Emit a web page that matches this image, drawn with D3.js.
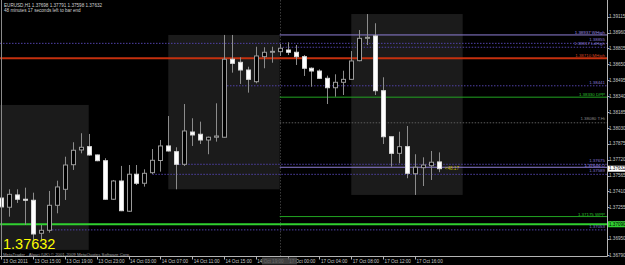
<!DOCTYPE html>
<html>
<head>
<meta charset="utf-8">
<script src="https://cdn.jsdelivr.net/npm/d3@7"></script>
<style>
body { margin: 0; background: #000; overflow: hidden; }
svg { display: block; }
text { font-family: "Liberation Sans", Arial, sans-serif; }
</style>
</head>
<body>
<script>
var w = 625;
var h = 265;

// EURUSD H1 bars, 13 Oct 2011 11:00 .. 17 Oct 2011 19:00
var opens  = [1.37346,1.37256,1.37376,1.37334,1.37324,1.37002,1.37031,1.37275,1.37431,1.37671,
              1.37815,1.37847,1.37766,1.37710,1.37334,1.37512,1.37217,1.37578,1.37490,1.37593,
              1.37712,1.37854,1.37798,1.37675,1.37990,1.37968,1.37912,1.37939,1.37939,1.38700,
              1.38670,1.38595,1.38481,1.38725,1.38768,1.38774,1.38790,1.38768,1.38725,1.38612,
              1.38585,1.38514,1.38422,1.38475,1.38504,1.38686,1.38904,1.38927,1.38393,1.37944,
              1.37782,1.37847,1.37583,1.37642,1.37661,1.37698];
var highs  = [1.37376,1.37431,1.37431,1.37447,1.37398,1.37083,1.37415,1.37515,1.37749,1.37890,
              1.37978,1.37971,1.37770,1.37734,1.37522,1.37659,1.37668,1.37668,1.37626,1.37824,
              1.37912,1.38146,1.37841,1.38263,1.38124,1.38091,1.37945,1.38270,1.38937,1.38937,
              1.38719,1.38627,1.38822,1.38817,1.38822,1.38849,1.38865,1.38839,1.38741,1.38621,
              1.38602,1.38540,1.38553,1.38588,1.38780,1.38985,1.39141,1.39051,1.38524,1.37944,
              1.37993,1.38049,1.37773,1.37743,1.37805,1.37791];
var lows   = [1.37229,1.37164,1.37298,1.37083,1.36937,1.36937,1.37008,1.37197,1.37327,1.37620,
              1.37782,1.37760,1.37705,1.37330,1.37327,1.37218,1.37210,1.37473,1.37457,1.37580,
              1.37603,1.37800,1.37431,1.37659,1.37854,1.37873,1.37773,1.37896,1.37935,1.38569,
              1.38459,1.38374,1.38465,1.38612,1.38666,1.38732,1.38741,1.38644,1.38537,1.38432,
              1.38510,1.38263,1.38335,1.38351,1.38500,1.38680,1.38839,1.38351,1.37873,1.37652,
              1.37685,1.37539,1.37376,1.37463,1.37522,1.37598];
var closes = [1.37259,1.37382,1.37334,1.37324,1.36995,1.37031,1.37275,1.37454,1.37668,1.37812,
              1.37841,1.37766,1.37710,1.37334,1.37512,1.37222,1.37578,1.37490,1.37587,1.37714,
              1.37854,1.37805,1.37675,1.38000,1.37961,1.37912,1.37939,1.37951,1.38700,1.38660,
              1.38595,1.38504,1.38732,1.38768,1.38777,1.38807,1.38768,1.38725,1.38612,1.38585,
              1.38514,1.38422,1.38475,1.38504,1.38683,1.38904,1.38914,1.38393,1.37944,1.37782,
              1.37847,1.37587,1.37646,1.37668,1.37695,1.37632];

var timeTickIdx = [0,4,8,12,16,20,24,28,32,36,40,44,48,52];
var timeLabels = ["13 Oct 2011","13 Oct 15:00","13 Oct 19:00","13 Oct 23:00","14 Oct 03:00",
                  "14 Oct 07:00","14 Oct 11:00","14 Oct 15:00","14 Oct 19:00","17 Oct 00:00",
                  "17 Oct 04:00","17 Oct 08:00","17 Oct 12:00","17 Oct 16:00"];

var priceTicks = [1.39115,1.38960,1.38805,1.38650,1.38495,1.38340,1.38185,1.38030,
                  1.37875,1.37720,1.37565,1.37410,1.37255,1.37100,1.36950,1.36790];

// session boxes (bar index from/to, high, low)
var boxFrom = [-3, 21, 44];
var boxTo   = [11, 35, 58];
var boxHigh = [1.38254, 1.38937, 1.39141];
var boxLow  = [1.36840, 1.37431, 1.37376];

// horizontal levels
var levelPrices = [1.38937, 1.38855, 1.38817, 1.38710, 1.38441, 1.38330, 1.38080,
                   1.37675, 1.37646, 1.37577, 1.37165, 1.37090, 1.37035];
var levelTexts  = ["1.38937  WHigh", "1.38855", "1.38817  LdHigh", "1.38710  MHigh", "1.38441",
                   "1.38330  DPP", "1.38080  T.Hi", "1.37675", "1.37646  O", "1.37589",
                   "1.37175  WPP", "", "1.37053"];
var levelKind   = ["high", "dot", "dot", "month", "dot", "pivot", "gray",
                   "dot", "high", "dot", "pivot", "line", "dot"];
var levelStart  = [35, null, 35, null, 28, 35, 35, 22, 35, 19, 35, null, 6];

var lastPrice = 1.37632;
var lineLabelPrice = 1.37090;
var separatorIdx = 35;

var plotRight = 607.5;
var plotBottom = 256.5;

var x = d3.scaleLinear().domain([0, 55]).range([1.2, 438.8]);
var y = d3.scaleLinear().domain([1.36790, 1.39115]).range([255, 16.7]);

var styles = {
  high:  {stroke: "#8f7fd6", dash: null, width: 1, text: "#9a8ae0", lift: 0.6},
  dot:   {stroke: "#5142a8", dash: "1.5,1.5", width: 1, text: "#8676d4", lift: 2.2},
  month: {stroke: "#c4300e", dash: null, width: 2, text: "#d04020", lift: 1.3},
  pivot: {stroke: "#22a522", dash: null, width: 1, text: "#2cc02c", lift: 1},
  gray:  {stroke: "#5c5c5c", dash: "1.5,1.5", width: 1, text: "#8a8a8a", lift: 2.5},
  line:  {stroke: "#30d030", dash: null, width: 2, text: "#30d030", lift: 1}
};

var svg = d3.select("body")
  .append("svg")
  .attr("width", w)
  .attr("height", h);

svg.append("rect").attr("width", w).attr("height", h).attr("fill", "#000");

svg.append("clipPath").attr("id", "clip")
  .append("rect").attr("x", 0).attr("y", 0).attr("width", plotRight).attr("height", plotBottom);
var plot = svg.append("g").attr("clip-path", "url(#clip)");

// session boxes
plot.selectAll("rect.box")
  .data(boxFrom)
  .enter()
  .append("rect")
  .attr("class", "box")
  .attr("x", function (d) { return x(d); })
  .attr("y", function (d, i) { return y(boxHigh[i]); })
  .attr("width", function (d, i) { return x(boxTo[i]) - x(d); })
  .attr("height", function (d, i) { return y(boxLow[i]) - y(boxHigh[i]); })
  .attr("fill", "#1b1b1b");

// period separator
plot.append("line")
  .attr("x1", Math.round(x(separatorIdx)) + 0.5).attr("x2", Math.round(x(separatorIdx)) + 0.5)
  .attr("y1", 0).attr("y2", plotBottom)
  .attr("stroke", "#3a3a3a")
  .attr("stroke-dasharray", "1.5,1.5");

// levels
plot.selectAll("line.level")
  .data(levelPrices)
  .enter()
  .append("line")
  .attr("class", "level")
  .attr("x1", function (d, i) { return levelStart[i] === null ? 0 : x(levelStart[i]); })
  .attr("x2", plotRight)
  .attr("y1", function (d) { return y(d); })
  .attr("y2", function (d) { return y(d); })
  .attr("stroke", function (d, i) { return styles[levelKind[i]].stroke; })
  .attr("stroke-width", function (d, i) { return styles[levelKind[i]].width; })
  .attr("stroke-dasharray", function (d, i) { return styles[levelKind[i]].dash; });

plot.selectAll("text.level")
  .data(levelPrices)
  .enter()
  .append("text")
  .attr("class", "level")
  .attr("x", 605)
  .attr("y", function (d, i) { return y(d) - styles[levelKind[i]].lift; })
  .attr("text-anchor", "end")
  .attr("font-size", 4.4)
  .attr("fill", function (d, i) { return styles[levelKind[i]].text; })
  .text(function (d, i) { return levelTexts[i]; });

// candles
var bars = plot.selectAll("g.bar")
  .data(opens)
  .enter()
  .append("g")
  .attr("class", "bar");

bars.append("line")
  .attr("x1", function (d, i) { return Math.round(x(i)) + 0.5; })
  .attr("x2", function (d, i) { return Math.round(x(i)) + 0.5; })
  .attr("y1", function (d, i) { return y(highs[i]); })
  .attr("y2", function (d, i) { return y(lows[i]); })
  .attr("stroke", "#8c8c8c");

bars.append("rect")
  .attr("x", function (d, i) { return Math.round(x(i)) - 1.5; })
  .attr("y", function (d, i) { return y(Math.max(d, closes[i])); })
  .attr("width", 4)
  .attr("height", function (d, i) { return Math.max(0.8, Math.abs(y(d) - y(closes[i]))); })
  .attr("fill", function (d, i) { return closes[i] < d ? "#ffffff" : "#000000"; })
  .attr("stroke", function (d, i) { return closes[i] < d ? "#d8d8d8" : "#9a9a9a"; });

// timer text next to last bar
plot.append("text")
  .attr("x", x(55) + 6)
  .attr("y", y(lastPrice) + 1.2)
  .attr("font-size", 4.6)
  .attr("fill", "#c8b800")
  .text("<48:17");

// frame
svg.append("line").attr("x1", 1.5).attr("x2", 1.5).attr("y1", 0).attr("y2", plotBottom)
  .attr("stroke", "#8a8a8a");
svg.append("line").attr("x1", plotRight).attr("x2", plotRight).attr("y1", 0).attr("y2", plotBottom)
  .attr("stroke", "#b4b4b4");
svg.append("line").attr("x1", 0).attr("x2", plotRight).attr("y1", plotBottom).attr("y2", plotBottom)
  .attr("stroke", "#b4b4b4");

// price axis
svg.selectAll("line.ptick")
  .data(priceTicks)
  .enter()
  .append("line")
  .attr("class", "ptick")
  .attr("x1", plotRight).attr("x2", plotRight + 2)
  .attr("y1", function (d) { return Math.round(y(d)) + 0.5; })
  .attr("y2", function (d) { return Math.round(y(d)) + 0.5; })
  .attr("stroke", "#b4b4b4");

svg.selectAll("text.ptick")
  .data(priceTicks)
  .enter()
  .append("text")
  .attr("class", "ptick")
  .attr("x", 609)
  .attr("y", function (d) { return y(d); })
  .attr("dy", "0.36em")
  .attr("font-size", 4.6)
  .attr("fill", "#c8c8c8")
  .text(function (d) { return d.toFixed(5); });

// highlighted axis labels
var marks = [lastPrice, lineLabelPrice];
var markFill = ["#ffffff", "#30d030"];
svg.selectAll("rect.mark")
  .data(marks)
  .enter()
  .append("rect")
  .attr("x", 608).attr("width", 17)
  .attr("y", function (d) { return y(d) - 3; })
  .attr("height", 6)
  .attr("fill", function (d, i) { return markFill[i]; });
svg.selectAll("text.mark")
  .data(marks)
  .enter()
  .append("text")
  .attr("x", 609)
  .attr("y", function (d) { return y(d); })
  .attr("dy", "0.36em")
  .attr("font-size", 4.6)
  .attr("fill", "#000")
  .text(function (d) { return d.toFixed(5); });

// time axis
svg.selectAll("line.ttick")
  .data(timeTickIdx)
  .enter()
  .append("line")
  .attr("x1", function (d) { return Math.round(x(d)) + 0.5; })
  .attr("x2", function (d) { return Math.round(x(d)) + 0.5; })
  .attr("y1", plotBottom).attr("y2", plotBottom + 3)
  .attr("stroke", "#b4b4b4");

svg.selectAll("text.ttick")
  .data(timeTickIdx)
  .enter()
  .append("text")
  .attr("x", function (d) { return Math.max(3, x(d) + 1.5); })
  .attr("y", 262.8)
  .attr("font-size", 4.6)
  .attr("fill", "#c8c8c8")
  .text(function (d, i) { return timeLabels[i]; });

// scroll marker over the time axis
svg.append("rect")
  .attr("x", 262).attr("y", 257.5).attr("width", 35).attr("height", 7)
  .attr("fill", "#505050").attr("opacity", 0.8);

// header
svg.append("text").attr("x", 4).attr("y", 6.8).attr("font-size", 4.6).attr("fill", "#d0d0d0")
  .text("EURUSD,H1  " + [opens[55], highs[55], lows[55], closes[55]].map(function (d) { return d.toFixed(5); }).join(" "));
svg.append("text").attr("x", 4).attr("y", 11.5).attr("font-size", 4.6).attr("fill", "#d0d0d0")
  .text("48 minutes 17 seconds left to bar end");

// big bid and copyright
svg.append("text").attr("x", 3).attr("y", 249).attr("font-size", 14.5).attr("fill", "#ffff00")
  .text(lastPrice.toFixed(5));
svg.append("text").attr("x", 3).attr("y", 256).attr("font-size", 4.3).attr("fill", "#a0a0a0")
  .text("MetaTrader - Alpari (UK) \u00a9 2001-2009 MetaQuotes Software Corp.");
</script>
</body>
</html>
